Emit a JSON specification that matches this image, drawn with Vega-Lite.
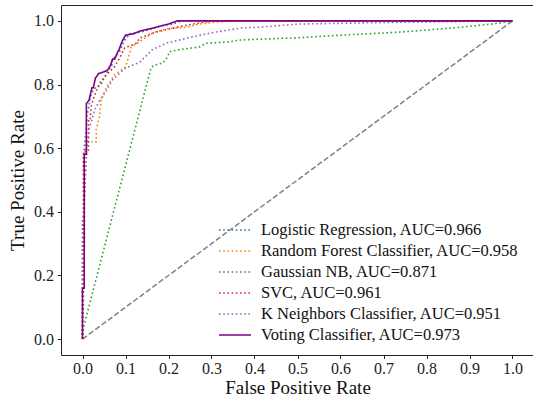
{
  "$schema": "https://vega.github.io/schema/vega-lite/v6.json",
  "width": 473,
  "height": 350,
  "autosize": "none",
  "padding": {"left": 61, "top": 5, "right": 0, "bottom": 48},
  "background": "white",
  "config": {
    "font": "Liberation Serif",
    "view": {"stroke": "#222", "strokeWidth": 1},
    "axis": {"grid": false, "domain": false, "tickColor": "#222", "tickSize": 3.5, "labelColor": "#222", "titleColor": "#111", "labelFont": "Liberation Serif", "titleFont": "Liberation Serif", "labelFontSize": 16, "titleFontSize": 19, "titleFontWeight": "normal"}
  },
  "datasets": {
    "roc": [
      {"m": "Logistic Regression, AUC=0.966", "x": 0, "y": 0},
      {"m": "Logistic Regression, AUC=0.966", "x": 0, "y": 0.2},
      {"m": "Logistic Regression, AUC=0.966", "x": 0, "y": 0.37},
      {"m": "Logistic Regression, AUC=0.966", "x": 0.004, "y": 0.4},
      {"m": "Logistic Regression, AUC=0.966", "x": 0.004, "y": 0.6},
      {"m": "Logistic Regression, AUC=0.966", "x": 0.008, "y": 0.65},
      {"m": "Logistic Regression, AUC=0.966", "x": 0.01, "y": 0.7},
      {"m": "Logistic Regression, AUC=0.966", "x": 0.016, "y": 0.74},
      {"m": "Logistic Regression, AUC=0.966", "x": 0.018, "y": 0.76},
      {"m": "Logistic Regression, AUC=0.966", "x": 0.024, "y": 0.78},
      {"m": "Logistic Regression, AUC=0.966", "x": 0.03, "y": 0.79},
      {"m": "Logistic Regression, AUC=0.966", "x": 0.043, "y": 0.8},
      {"m": "Logistic Regression, AUC=0.966", "x": 0.05, "y": 0.82},
      {"m": "Logistic Regression, AUC=0.966", "x": 0.06, "y": 0.845},
      {"m": "Logistic Regression, AUC=0.966", "x": 0.068, "y": 0.86},
      {"m": "Logistic Regression, AUC=0.966", "x": 0.07, "y": 0.88},
      {"m": "Logistic Regression, AUC=0.966", "x": 0.085, "y": 0.9},
      {"m": "Logistic Regression, AUC=0.966", "x": 0.098, "y": 0.94},
      {"m": "Logistic Regression, AUC=0.966", "x": 0.11, "y": 0.96},
      {"m": "Logistic Regression, AUC=0.966", "x": 0.137, "y": 0.965},
      {"m": "Logistic Regression, AUC=0.966", "x": 0.16, "y": 0.975},
      {"m": "Logistic Regression, AUC=0.966", "x": 0.185, "y": 0.985},
      {"m": "Logistic Regression, AUC=0.966", "x": 0.21, "y": 0.99},
      {"m": "Logistic Regression, AUC=0.966", "x": 0.23, "y": 1.0},
      {"m": "Logistic Regression, AUC=0.966", "x": 1, "y": 1},

      {"m": "Random Forest Classifier, AUC=0.958", "x": 0, "y": 0},
      {"m": "Random Forest Classifier, AUC=0.958", "x": 0, "y": 0.2},
      {"m": "Random Forest Classifier, AUC=0.958", "x": 0.005, "y": 0.3},
      {"m": "Random Forest Classifier, AUC=0.958", "x": 0.005, "y": 0.44},
      {"m": "Random Forest Classifier, AUC=0.958", "x": 0.008, "y": 0.6},
      {"m": "Random Forest Classifier, AUC=0.958", "x": 0.01, "y": 0.62},
      {"m": "Random Forest Classifier, AUC=0.958", "x": 0.032, "y": 0.62},
      {"m": "Random Forest Classifier, AUC=0.958", "x": 0.032, "y": 0.66},
      {"m": "Random Forest Classifier, AUC=0.958", "x": 0.04, "y": 0.7},
      {"m": "Random Forest Classifier, AUC=0.958", "x": 0.043, "y": 0.75},
      {"m": "Random Forest Classifier, AUC=0.958", "x": 0.055, "y": 0.79},
      {"m": "Random Forest Classifier, AUC=0.958", "x": 0.074, "y": 0.83},
      {"m": "Random Forest Classifier, AUC=0.958", "x": 0.1, "y": 0.855},
      {"m": "Random Forest Classifier, AUC=0.958", "x": 0.11, "y": 0.9},
      {"m": "Random Forest Classifier, AUC=0.958", "x": 0.113, "y": 0.918},
      {"m": "Random Forest Classifier, AUC=0.958", "x": 0.133, "y": 0.935},
      {"m": "Random Forest Classifier, AUC=0.958", "x": 0.163, "y": 0.962},
      {"m": "Random Forest Classifier, AUC=0.958", "x": 0.195, "y": 0.975},
      {"m": "Random Forest Classifier, AUC=0.958", "x": 0.24, "y": 0.98},
      {"m": "Random Forest Classifier, AUC=0.958", "x": 0.27, "y": 0.99},
      {"m": "Random Forest Classifier, AUC=0.958", "x": 0.3, "y": 0.995},
      {"m": "Random Forest Classifier, AUC=0.958", "x": 0.35, "y": 1.0},
      {"m": "Random Forest Classifier, AUC=0.958", "x": 1, "y": 1},

      {"m": "Gaussian NB, AUC=0.871", "x": 0, "y": 0},
      {"m": "Gaussian NB, AUC=0.871", "x": 0.003, "y": 0.04},
      {"m": "Gaussian NB, AUC=0.871", "x": 0.152, "y": 0.815},
      {"m": "Gaussian NB, AUC=0.871", "x": 0.16, "y": 0.855},
      {"m": "Gaussian NB, AUC=0.871", "x": 0.171, "y": 0.862},
      {"m": "Gaussian NB, AUC=0.871", "x": 0.187, "y": 0.868},
      {"m": "Gaussian NB, AUC=0.871", "x": 0.198, "y": 0.887},
      {"m": "Gaussian NB, AUC=0.871", "x": 0.202, "y": 0.903},
      {"m": "Gaussian NB, AUC=0.871", "x": 0.226, "y": 0.91},
      {"m": "Gaussian NB, AUC=0.871", "x": 0.272, "y": 0.918},
      {"m": "Gaussian NB, AUC=0.871", "x": 0.288, "y": 0.93},
      {"m": "Gaussian NB, AUC=0.871", "x": 0.34, "y": 0.934},
      {"m": "Gaussian NB, AUC=0.871", "x": 0.365, "y": 0.94},
      {"m": "Gaussian NB, AUC=0.871", "x": 0.5, "y": 0.947},
      {"m": "Gaussian NB, AUC=0.871", "x": 0.6, "y": 0.955},
      {"m": "Gaussian NB, AUC=0.871", "x": 0.74, "y": 0.965},
      {"m": "Gaussian NB, AUC=0.871", "x": 0.88, "y": 0.98},
      {"m": "Gaussian NB, AUC=0.871", "x": 0.95, "y": 0.99},
      {"m": "Gaussian NB, AUC=0.871", "x": 1, "y": 1},

      {"m": "SVC, AUC=0.961", "x": 0, "y": 0},
      {"m": "SVC, AUC=0.961", "x": 0, "y": 0.05},
      {"m": "SVC, AUC=0.961", "x": 0.002, "y": 0.1},
      {"m": "SVC, AUC=0.961", "x": 0.002, "y": 0.59},
      {"m": "SVC, AUC=0.961", "x": 0.014, "y": 0.59},
      {"m": "SVC, AUC=0.961", "x": 0.014, "y": 0.69},
      {"m": "SVC, AUC=0.961", "x": 0.018, "y": 0.69},
      {"m": "SVC, AUC=0.961", "x": 0.02, "y": 0.73},
      {"m": "SVC, AUC=0.961", "x": 0.024, "y": 0.75},
      {"m": "SVC, AUC=0.961", "x": 0.032, "y": 0.78},
      {"m": "SVC, AUC=0.961", "x": 0.043, "y": 0.81},
      {"m": "SVC, AUC=0.961", "x": 0.055, "y": 0.83},
      {"m": "SVC, AUC=0.961", "x": 0.074, "y": 0.855},
      {"m": "SVC, AUC=0.961", "x": 0.085, "y": 0.88},
      {"m": "SVC, AUC=0.961", "x": 0.098, "y": 0.915},
      {"m": "SVC, AUC=0.961", "x": 0.125, "y": 0.93},
      {"m": "SVC, AUC=0.961", "x": 0.133, "y": 0.946},
      {"m": "SVC, AUC=0.961", "x": 0.171, "y": 0.965},
      {"m": "SVC, AUC=0.961", "x": 0.218, "y": 0.98},
      {"m": "SVC, AUC=0.961", "x": 0.256, "y": 0.99},
      {"m": "SVC, AUC=0.961", "x": 0.3, "y": 1.0},
      {"m": "SVC, AUC=0.961", "x": 1, "y": 1},

      {"m": "K Neighbors Classifier, AUC=0.951", "x": 0, "y": 0},
      {"m": "K Neighbors Classifier, AUC=0.951", "x": 0, "y": 0.3},
      {"m": "K Neighbors Classifier, AUC=0.951", "x": 0.005, "y": 0.45},
      {"m": "K Neighbors Classifier, AUC=0.951", "x": 0.01, "y": 0.6},
      {"m": "K Neighbors Classifier, AUC=0.951", "x": 0.015, "y": 0.66},
      {"m": "K Neighbors Classifier, AUC=0.951", "x": 0.022, "y": 0.69},
      {"m": "K Neighbors Classifier, AUC=0.951", "x": 0.028, "y": 0.72},
      {"m": "K Neighbors Classifier, AUC=0.951", "x": 0.04, "y": 0.75},
      {"m": "K Neighbors Classifier, AUC=0.951", "x": 0.055, "y": 0.78},
      {"m": "K Neighbors Classifier, AUC=0.951", "x": 0.07, "y": 0.815},
      {"m": "K Neighbors Classifier, AUC=0.951", "x": 0.1, "y": 0.852},
      {"m": "K Neighbors Classifier, AUC=0.951", "x": 0.133, "y": 0.87},
      {"m": "K Neighbors Classifier, AUC=0.951", "x": 0.163, "y": 0.91},
      {"m": "K Neighbors Classifier, AUC=0.951", "x": 0.195, "y": 0.93},
      {"m": "K Neighbors Classifier, AUC=0.951", "x": 0.256, "y": 0.95},
      {"m": "K Neighbors Classifier, AUC=0.951", "x": 0.31, "y": 0.965},
      {"m": "K Neighbors Classifier, AUC=0.951", "x": 0.37, "y": 0.978},
      {"m": "K Neighbors Classifier, AUC=0.951", "x": 0.41, "y": 0.98},
      {"m": "K Neighbors Classifier, AUC=0.951", "x": 0.5, "y": 0.99},
      {"m": "K Neighbors Classifier, AUC=0.951", "x": 0.7, "y": 0.995},
      {"m": "K Neighbors Classifier, AUC=0.951", "x": 1, "y": 1},

      {"m": "Voting Classifier, AUC=0.973", "x": 0, "y": 0},
      {"m": "Voting Classifier, AUC=0.973", "x": 0, "y": 0.16},
      {"m": "Voting Classifier, AUC=0.973", "x": 0.004, "y": 0.16},
      {"m": "Voting Classifier, AUC=0.973", "x": 0.004, "y": 0.58},
      {"m": "Voting Classifier, AUC=0.973", "x": 0.009, "y": 0.58},
      {"m": "Voting Classifier, AUC=0.973", "x": 0.009, "y": 0.74},
      {"m": "Voting Classifier, AUC=0.973", "x": 0.015, "y": 0.75},
      {"m": "Voting Classifier, AUC=0.973", "x": 0.022, "y": 0.79},
      {"m": "Voting Classifier, AUC=0.973", "x": 0.025, "y": 0.79},
      {"m": "Voting Classifier, AUC=0.973", "x": 0.03, "y": 0.82},
      {"m": "Voting Classifier, AUC=0.973", "x": 0.038, "y": 0.835},
      {"m": "Voting Classifier, AUC=0.973", "x": 0.05, "y": 0.84},
      {"m": "Voting Classifier, AUC=0.973", "x": 0.058, "y": 0.845},
      {"m": "Voting Classifier, AUC=0.973", "x": 0.065, "y": 0.86},
      {"m": "Voting Classifier, AUC=0.973", "x": 0.07, "y": 0.88},
      {"m": "Voting Classifier, AUC=0.973", "x": 0.075, "y": 0.88},
      {"m": "Voting Classifier, AUC=0.973", "x": 0.081, "y": 0.9},
      {"m": "Voting Classifier, AUC=0.973", "x": 0.085, "y": 0.91},
      {"m": "Voting Classifier, AUC=0.973", "x": 0.092, "y": 0.935},
      {"m": "Voting Classifier, AUC=0.973", "x": 0.1, "y": 0.955},
      {"m": "Voting Classifier, AUC=0.973", "x": 0.12, "y": 0.96},
      {"m": "Voting Classifier, AUC=0.973", "x": 0.133, "y": 0.968},
      {"m": "Voting Classifier, AUC=0.973", "x": 0.156, "y": 0.975},
      {"m": "Voting Classifier, AUC=0.973", "x": 0.179, "y": 0.983},
      {"m": "Voting Classifier, AUC=0.973", "x": 0.2, "y": 0.99},
      {"m": "Voting Classifier, AUC=0.973", "x": 0.22, "y": 1.0},
      {"m": "Voting Classifier, AUC=0.973", "x": 1, "y": 1}
    ],
    "diag": [{"x": 0, "y": 0}, {"x": 1, "y": 1}]
  },
  "layer": [
    {
      "data": {"name": "diag"},
      "mark": {"type": "line", "color": "#808080", "strokeWidth": 1.5, "strokeDash": [5.5, 2.4]},
      "encoding": {
        "x": {"field": "x", "type": "quantitative", "scale": {"domain": [-0.05, 1.05], "nice": false, "zero": false},
              "axis": {"title": "False Positive Rate", "values": [0, 0.1, 0.2, 0.3, 0.4, 0.5, 0.6, 0.7, 0.8, 0.9, 1.0], "format": ".1f", "labelPadding": 2, "titlePadding": 2}},
        "y": {"field": "y", "type": "quantitative", "scale": {"domain": [-0.05, 1.05], "nice": false, "zero": false},
              "axis": {"title": "True Positive Rate", "values": [0, 0.1, 0.2, 0.3, 0.4, 0.5, 0.6, 0.7, 0.8, 0.9, 1.0], "format": ".1f", "labelPadding": 4, "titlePadding": 6}}
      }
    },
    {
      "data": {"name": "roc"},
      "mark": {"type": "line", "strokeWidth": 1.6, "interpolate": "linear"},
      "encoding": {
        "x": {"field": "x", "type": "quantitative"},
        "y": {"field": "y", "type": "quantitative"},
        "order": {"value": null},
        "color": {
          "field": "m", "type": "nominal",
          "scale": {
            "domain": ["Logistic Regression, AUC=0.966", "Random Forest Classifier, AUC=0.958", "Gaussian NB, AUC=0.871", "SVC, AUC=0.961", "K Neighbors Classifier, AUC=0.951", "Voting Classifier, AUC=0.973"],
            "range": ["#1f77b4", "#ff7f0e", "#2ca02c", "#d62728", "#9467bd", "#800080"]
          },
          "legend": {
            "title": null, "orient": "none", "legendX": 163, "legendY": 214,
            "symbolType": "M-1.6,0H1.6", "symbolSize": 400, "symbolStrokeWidth": 1.6,
            "labelFont": "Liberation Serif", "labelFontSize": 16.5, "labelColor": "#111",
            "rowPadding": 1, "labelOffset": 15, "labelLimit": 400
          }
        },
        "strokeDash": {
          "field": "m", "type": "nominal",
          "scale": {
            "domain": ["Logistic Regression, AUC=0.966", "Random Forest Classifier, AUC=0.958", "Gaussian NB, AUC=0.871", "SVC, AUC=0.961", "K Neighbors Classifier, AUC=0.951", "Voting Classifier, AUC=0.973"],
            "range": [[1.6, 2.6], [1.6, 2.6], [1.6, 2.6], [1.6, 2.6], [1.6, 2.6], [1, 0]]
          }
        },
        "strokeWidth": {
          "field": "m", "type": "nominal",
          "scale": {
            "domain": ["Logistic Regression, AUC=0.966", "Random Forest Classifier, AUC=0.958", "Gaussian NB, AUC=0.871", "SVC, AUC=0.961", "K Neighbors Classifier, AUC=0.951", "Voting Classifier, AUC=0.973"],
            "range": [1.6, 1.6, 1.6, 1.6, 1.6, 2]
          },
          "legend": null
        }
      }
    }
  ]
}
